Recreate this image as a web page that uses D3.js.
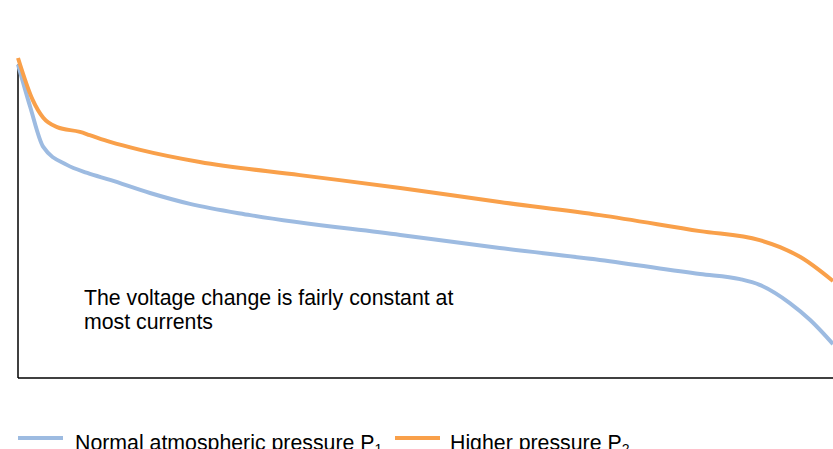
<!DOCTYPE html>
<html>
<head>
<meta charset="utf-8">
<script src="https://cdn.jsdelivr.net/npm/d3@7"></script>
<style>
  body { margin: 0; background: #fff; }
  svg { display: block; font-family: "Liberation Sans", Arial, sans-serif; }
</style>
</head>
<body>
<svg id="chart" width="833" height="449"></svg>
<script>
// current (0-100) vs voltage (arbitrary units)
const currentNormal = [0, 1.5, 3.1, 6.0, 8.5, 11.3, 16.2, 21.1, 28.5, 46.9, 59.1, 71.4, 83.7, 88.6, 91.0, 94.7, 97.2, 100];
const voltageNormal = [98, 84.7, 72.2, 66.6, 64.1, 61.9, 57.8, 54.4, 50.9, 44.7, 40.6, 36.9, 32.5, 30.9, 29.1, 23.4, 18.1, 10.6];

const currentHigh = [0, 1.8, 3.1, 4.8, 7.6, 8.8, 11.3, 15.0, 22.3, 34.6, 46.9, 59.1, 71.4, 83.7, 91.0, 93.5, 96.0, 100];
const voltageHigh = [100, 86.9, 81.3, 78.4, 76.9, 75.9, 73.8, 71.3, 67.5, 63.4, 59.4, 55, 50.9, 45.9, 43.1, 40.9, 37.8, 30.3];

const seriesNames = ["Normal atmospheric pressure P", "Higher pressure P"];
const seriesSubs = ["1", "2"];
const colors = ["#9dbbe1", "#f9a04a"];
const note = ["The voltage change is fairly constant at", "most currents"];

const svg = d3.select("#chart");

const x = d3.scaleLinear().domain([0, 100]).range([18, 833]);
const y = d3.scaleLinear().domain([0, 100]).range([378, 58]);

const line = d3.line()
  .x(d => x(d[0]))
  .y(d => y(d[1]))
  .curve(d3.curveMonotoneX);

const series = [
  d3.zip(currentNormal, voltageNormal),
  d3.zip(currentHigh, voltageHigh)
];

// axes (plain lines, no ticks)
svg.append("line")
  .attr("x1", x(0)).attr("x2", x(0))
  .attr("y1", y(98)).attr("y2", y(0))
  .attr("stroke", "#000").attr("stroke-width", 1.5);
svg.append("line")
  .attr("x1", x(0)).attr("x2", x(100))
  .attr("y1", y(0)).attr("y2", y(0))
  .attr("stroke", "#000").attr("stroke-width", 1.5);

// curves
series.forEach((s, i) => {
  svg.append("path")
    .datum(s)
    .attr("d", line)
    .attr("fill", "none")
    .attr("stroke", colors[i])
    .attr("stroke-width", 4)
    .attr("stroke-linejoin", "round");
});

// annotation
const t = svg.append("text")
  .attr("x", 84)
  .attr("y", 305)
  .attr("font-size", 21.3)
  .attr("fill", "#000");
note.forEach((s, i) => {
  t.append("tspan").attr("x", 84).attr("dy", i === 0 ? 0 : 24).text(s);
});

// legend
const legendX = [18, 395];
seriesNames.forEach((name, i) => {
  const g = svg.append("g").attr("transform", `translate(${legendX[i]},438)`);
  g.append("line")
    .attr("x1", 0).attr("x2", 45)
    .attr("stroke", colors[i]).attr("stroke-width", 4);
  const lt = g.append("text")
    .attr("x", i === 0 ? 57 : 55).attr("y", 12)
    .attr("font-size", 21.3)
    .attr("fill", "#000");
  lt.append("tspan").text(name);
  lt.append("tspan").attr("font-size", 14).attr("dy", 4).text(seriesSubs[i]);
});
</script>
</body>
</html>
